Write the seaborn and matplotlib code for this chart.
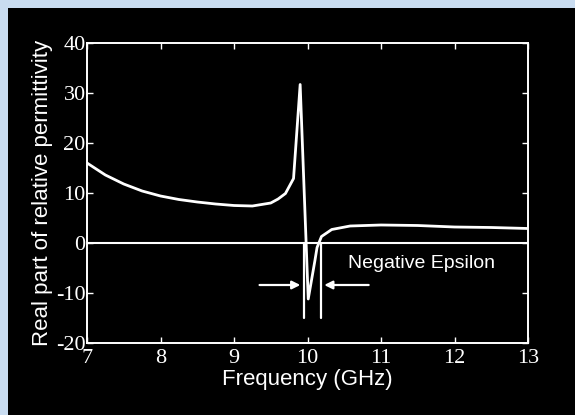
import matplotlib
matplotlib.use("Agg")
import matplotlib.pyplot as plt
import seaborn as sns
import pandas as pd
from matplotlib.patches import Rectangle

# values
freq_ghz = [7.0, 7.25, 7.5, 7.75, 8.0, 8.25, 8.5, 8.75, 9.0, 9.25, 9.5, 9.6,
            9.7, 9.81, 9.9, 10.01, 10.1, 10.13, 10.19, 10.33, 10.58, 11.0,
            11.5, 12.0, 12.5, 13.0]
eps_real = [16.0, 13.6, 11.8, 10.4, 9.4, 8.7, 8.2, 7.8, 7.5, 7.4, 8.0, 8.8,
            9.9, 12.9, 31.7, -11.2, -3.6, -0.9, 1.3, 2.7, 3.4, 3.6,
            3.5, 3.2, 3.1, 2.9]
x_ticks = [7, 8, 9, 10, 11, 12, 13]
y_ticks = [-20, -10, 0, 10, 20, 30, 40]
band_edges = [9.95, 10.18]
band_label = "Negative Epsilon"

sns.set_theme(style="ticks")
plt.rcParams["font.family"] = ["Liberation Sans", "DejaVu Sans"]

df = pd.DataFrame({"freq": freq_ghz, "eps": eps_real})
zero_df = pd.DataFrame({"freq": [x_ticks[0], x_ticks[-1]], "eps": [0, 0]})

fig = plt.figure(figsize=(5.75, 4.15), dpi=100, facecolor="#c9dcf0")
# black slide panel behind the plot
fig.patches.append(Rectangle((8 / 575, 0), 1, 407 / 415, transform=fig.transFigure,
                             facecolor="black", edgecolor="none", zorder=-5))
ax = fig.add_axes([87 / 575, 1 - 343 / 415, 441 / 575, 300 / 415])
ax.set_zorder(2)
ax.set_facecolor("black")

sns.lineplot(data=zero_df, x="freq", y="eps", ax=ax, color="white", lw=1.5)
sns.lineplot(data=df, x="freq", y="eps", ax=ax, color="white", lw=2.0)

for edge in band_edges:
    ax.plot([edge, edge], [0, -15], color="white", lw=1.6)
ax.annotate("", xy=(band_edges[0] - 0.01, -8.4), xytext=(9.31, -8.4),
            arrowprops=dict(arrowstyle="-|>", color="white", lw=1.6,
                            mutation_scale=12))
ax.annotate("", xy=(band_edges[1] + 0.01, -8.4), xytext=(10.87, -8.4),
            arrowprops=dict(arrowstyle="-|>", color="white", lw=1.6,
                            mutation_scale=12))
ax.text(10.55, -4.2, band_label, color="white", fontsize=14, va="center")

ax.set_xlim(7, 13)
ax.set_ylim(-20, 40)
ax.set_xticks(x_ticks)
ax.set_yticks(y_ticks)
ax.set_xticklabels([str(t) for t in x_ticks], family="Liberation Serif",
                   fontsize=16, color="white")
ax.set_yticklabels([str(t) for t in y_ticks], family="Liberation Serif",
                   fontsize=16, color="white")
ax.tick_params(direction="in", length=4, width=1, colors="white",
               top=True, right=True, pad=1)
ax.tick_params(axis="x", pad=4)
for spine in ax.spines.values():
    spine.set_color("white")
    spine.set_linewidth(1.4)

ax.set_xlabel("Frequency (GHz)", color="white", fontsize=16, labelpad=1)
ax.set_ylabel("Real part of relative permittivity", color="white",
              fontsize=16, labelpad=2)

fig.savefig("out.png", dpi=100, facecolor=fig.get_facecolor())
